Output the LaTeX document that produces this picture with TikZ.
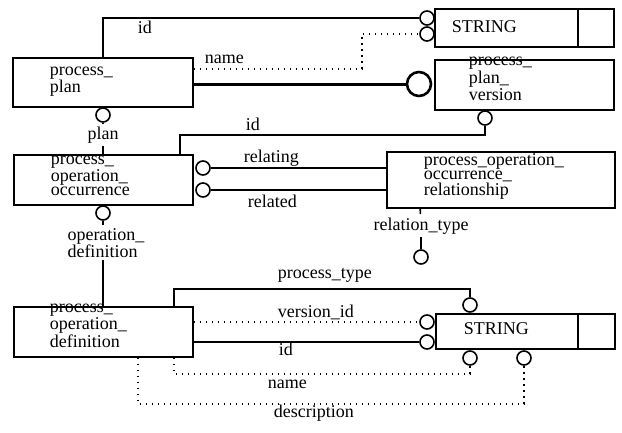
\documentclass[tikz,border=0pt]{standalone}
\usepackage{fontspec}
\setmainfont{Liberation Serif}
\begin{document}
\begin{tikzpicture}
  [x=1pt,y=-1pt,line width=1.6pt,
   every node/.style={font=\fontsize{18}{14}\selectfont},
   entity/.style={draw,rectangle,inner sep=0pt},
   port/.style={circle,draw,inner sep=0pt,minimum size=14pt},
   bigport/.style={port,line width=2.6pt,minimum size=24pt},
   txt/.style={anchor=base west,align=left,inner sep=0pt},
   role/.style={anchor=base west,inner sep=0pt},
   cut/.style={anchor=base,align=left,inner sep=2.5pt},
   opt/.style={dash pattern=on 1.6pt off 4.4pt}]
  \useasboundingbox (0,0) rectangle (622,432);

  % entities
  \node[entity,minimum width=180pt,minimum height=49pt] (plan) at (103,82.5) {};
  \node[entity,minimum width=179pt,minimum height=38pt] (strA) at (524.5,28) {};
  \node[entity,minimum width=179pt,minimum height=50pt] (version) at (524.5,85) {};
  \node[entity,minimum width=179pt,minimum height=50pt] (occ) at (103.5,180) {};
  \node[entity,minimum width=228pt,minimum height=56pt] (rel) at (501,180) {};
  \node[entity,minimum width=179pt,minimum height=50pt] (def) at (103.5,332) {};
  \node[entity,minimum width=179pt,minimum height=35pt] (strB) at (525.5,331.5) {};
  \draw ([xshift=-37pt]strA.north east) -- ([xshift=-37pt]strA.south east);
  \draw ([xshift=-38pt]strB.north east) -- ([xshift=-38pt]strB.south east);

  % last baselines
  \node[txt,font=\fontsize{18}{17}\selectfont] at (49,92) {process\_\\plan};
  \node[txt] at (451,32) {STRING};
  \node[txt] at (468,100) {process\_\\plan\_\\version};
  \node[txt] at (50,195) {process\_\\operation\_\\occurrence};
  \node[txt] at (423,195) {process\_operation\_\\occurrence\_\\relationship};
  \node[txt] at (49,347) {process\_\\operation\_\\definition};
  \node[txt] at (463,334) {STRING};

  % ports
  \node[port] (idA) at (427,18) {};
  \node[port] (nameA) at (427,34) {};
  \node[bigport] (verA) at (419,84) {};
  \node[port] (idV) at (485,118) {};
  \node[port] (planP) at (103,115) {};
  \node[port] (relating) at (203,168) {};
  \node[port] (related) at (203,190) {};
  \node[port] (reltype) at (421,257) {};
  \node[port] (opdef) at (103,213) {};
  \node[port] (ptype) at (470,305) {};
  \node[port] (verid) at (427,322) {};
  \node[port] (idB) at (427,342) {};
  \node[port] (nameB) at (470,358) {};
  \node[port] (descr) at (524,358) {};

  % role names
  \node[role] at (137,33) {id};
  \node[role] at (204,63) {name};
  \node[role] at (245,130) {id};
  \node[role] at (243,162) {relating};
  \node[role] at (247,207) {related};
  \node[role] at (277,278) {process\_type};
  \node[role] at (277,317) {version\_id};
  \node[role] at (278,355) {id};
  \node[role] at (267,388) {name};
  \node[role] at (273,417) {description};
  \node[cut] (lplan) at (103,139) {plan};
  \node[cut,font=\fontsize{18}{17}\selectfont] (lopdef) at (106,257) {operation\_\\definition};
  \node[cut] (lreltype) at (421,230) {relation\_type};

  % relationships
  \draw (plan.north) |- (idA.west);
  \draw[opt] ([yshift=13.5pt]plan.east) -- ++(168,0) |- (nameA.west);
  \draw[line width=3pt] (plan.east |- verA) -- (verA.west);
  \draw ([xshift=-14pt]occ.north east) -- ++(0,-19) -| (idV.south);
  \draw (planP) -- (lplan) -- (lplan |- occ.north);
  \foreach \from in {relating,related}
     \draw (\from.east) -- (\from.east -| rel.west);
  \draw ([xshift=34pt]rel.south west) -- (lreltype) -- (reltype);
  \draw (opdef) -- (lopdef.north -| opdef);
  \draw (lopdef.south -| opdef) -- (def.north -| opdef);
  \draw ([xshift=-20pt]def.north east) -- ++(0,-17) -| (ptype.north);
  \draw[opt] (def.east |- verid) -- (verid.west);
  \draw (def.east |- idB) -- (idB.west);
  \draw[opt] ([xshift=-20pt]def.south east) -- ++(0,16) -| (nameB.south);
  \draw[opt] ([xshift=-56pt]def.south east) -- ++(0,46) -| (descr.south);
\end{tikzpicture}
\end{document}
